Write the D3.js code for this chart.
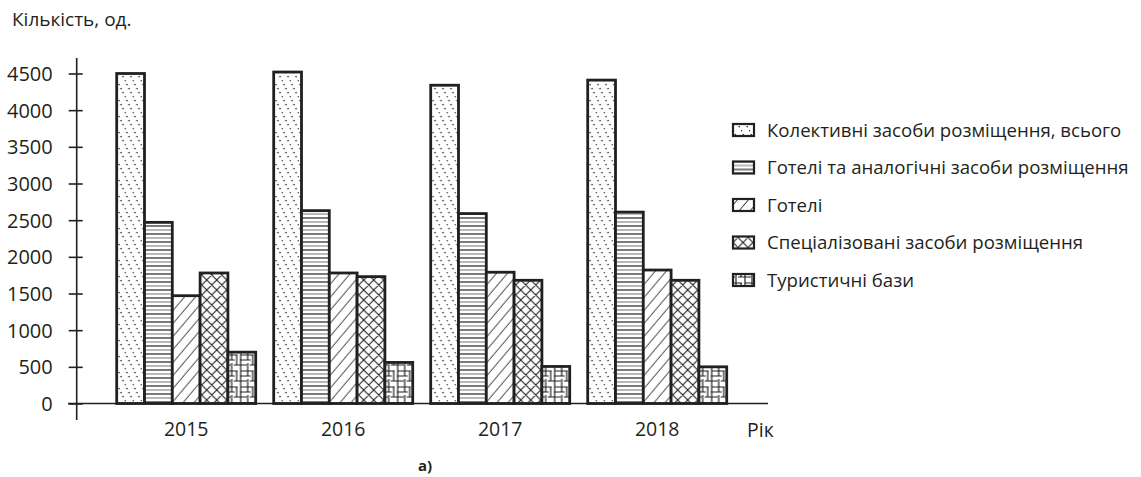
<!DOCTYPE html>
<html>
<head>
<meta charset="utf-8">
<script src="https://cdn.jsdelivr.net/npm/d3@7"></script>
<style>
  html, body { margin: 0; padding: 0; background: #fff; }
  svg { display: block; }
  text { font-family: "Open Sans", "Noto Sans", sans-serif; fill: #231f20; }
</style>
</head>
<body>
<svg id="chart" width="1141" height="477"></svg>
<script>
// ---- data ----
const years = ["2015", "2016", "2017", "2018"];
const seriesNames = [
  "Колективні засоби розміщення, всього",
  "Готелі та аналогічні засоби розміщення",
  "Готелі",
  "Спеціалізовані засоби розміщення",
  "Туристичні бази"
];
const collective   = [4500, 4520, 4340, 4410];
const hotelsSimilar = [2470, 2630, 2590, 2610];
const hotels       = [1470, 1780, 1790, 1820];
const specialized  = [1780, 1730, 1680, 1680];
const touristBases = [700, 560, 505, 500];
const yTicks = [0, 500, 1000, 1500, 2000, 2500, 3000, 3500, 4000, 4500];
const yTitle = "Кількість, од.";
const xTitle = "Рік";
const caption = "а)";

const seriesValues = [collective, hotelsSimilar, hotels, specialized, touristBases];
const patternIds = ["p-dots", "p-hlines", "p-diag", "p-cross", "p-maze"];
const ink = "#231f20";

const svg = d3.select("#chart");
const defs = svg.append("defs");

// pattern 1: dotted backslash lines
{
  const p = defs.append("pattern").attr("id", "p-dots").attr("patternUnits", "userSpaceOnUse")
    .attr("width", 8).attr("height", 16);
  p.append("rect").attr("width", 8).attr("height", 16).attr("fill", "#fff");
  p.append("line").attr("x1", 0).attr("y1", 0).attr("x2", 8).attr("y2", 16)
    .attr("stroke", ink).attr("stroke-width", 1.4).attr("stroke-dasharray", "1.4 3.07");
}
// pattern 2: horizontal lines (alternating dark/grey)
{
  const p = defs.append("pattern").attr("id", "p-hlines").attr("patternUnits", "userSpaceOnUse")
    .attr("width", 8).attr("height", 8);
  p.append("rect").attr("width", 8).attr("height", 8).attr("fill", "#fff");
  p.append("line").attr("x1", 0).attr("y1", 2).attr("x2", 8).attr("y2", 2).attr("stroke", ink).attr("stroke-width", 1.2);
  p.append("line").attr("x1", 0).attr("y1", 6).attr("x2", 8).attr("y2", 6).attr("stroke", "#8a8a8a").attr("stroke-width", 1.2);
}
// pattern 3: forward diagonal lines
{
  const p = defs.append("pattern").attr("id", "p-diag").attr("patternUnits", "userSpaceOnUse")
    .attr("width", 11).attr("height", 13);
  p.append("rect").attr("width", 11).attr("height", 13).attr("fill", "#fff");
  p.append("line").attr("x1", 0).attr("y1", 13).attr("x2", 11).attr("y2", 0).attr("stroke", ink).attr("stroke-width", 1);
  p.append("line").attr("x1", -1).attr("y1", 1.18).attr("x2", 1).attr("y2", -1.18).attr("stroke", ink).attr("stroke-width", 1);
  p.append("line").attr("x1", 10).attr("y1", 14.18).attr("x2", 12).attr("y2", 11.82).attr("stroke", ink).attr("stroke-width", 1);
}
// pattern 4: diagonal cross-hatch
{
  const p = defs.append("pattern").attr("id", "p-cross").attr("patternUnits", "userSpaceOnUse")
    .attr("width", 10).attr("height", 10);
  p.append("rect").attr("width", 10).attr("height", 10).attr("fill", "#fff");
  p.append("path").attr("d", "M0,0L10,10M10,0L0,10M-1,1L1,-1M9,11L11,9M-1,9L1,11M9,-1L11,1")
    .attr("stroke", ink).attr("stroke-width", 1.1).attr("fill", "none");
}
// pattern 5: maze-like grid
{
  const p = defs.append("pattern").attr("id", "p-maze").attr("patternUnits", "userSpaceOnUse")
    .attr("width", 16).attr("height", 16);
  p.append("rect").attr("width", 16).attr("height", 16).attr("fill", "#fff");
  p.append("path").attr("d",
    "M0,3H9M12,3H16M3,0V8M3,11V16M8,3V13M0,8H6M11,8H16M12,0V16M5,13H16M0,13H2")
    .attr("stroke", ink).attr("stroke-width", 1.2).attr("fill", "none");
}

// ---- scales ----
const y = d3.scaleLinear().domain([0, 4500]).range([403.5, 73.5]);
const x0 = d3.scaleBand().domain(years).range([107.7, 735.7]).paddingInner(0.1146).paddingOuter(0.0573);
const x1 = d3.scaleBand().domain(d3.range(seriesNames.length)).range([0, x0.bandwidth()]).padding(0);

// ---- bars ----
const groups = svg.append("g").selectAll("g").data(years).join("g")
  .attr("transform", d => `translate(${x0(d)},0)`);
groups.selectAll("rect")
  .data((yr, i) => seriesValues.map((vals, s) => ({ s, v: vals[i] })))
  .join("rect")
  .attr("x", d => x1(d.s))
  .attr("y", d => y(d.v))
  .attr("width", x1.bandwidth())
  .attr("height", d => y(0) - y(d.v))
  .attr("fill", d => `url(#${patternIds[d.s]})`)
  .attr("stroke", ink)
  .attr("stroke-width", 2.8);

// ---- y axis ----
const axisX = 76.7;
const yAxis = svg.append("g").attr("transform", `translate(${axisX},0)`)
  .call(d3.axisLeft(y).tickValues(yTicks).tickFormat(d3.format("d")).tickSize(7));
yAxis.select(".domain").remove();
yAxis.selectAll(".tick line").attr("x1", -8).attr("x2", 6).attr("stroke", ink).attr("stroke-width", 1.6);
yAxis.selectAll(".tick text").attr("x", -24).attr("dy", "0.35em")
  .style("font-size", "20px").style("font-family", "'Open Sans', sans-serif").attr("fill", ink);
svg.append("line").attr("x1", axisX).attr("x2", axisX).attr("y1", 58).attr("y2", 420)
  .attr("stroke", ink).attr("stroke-width", 1.6);

// ---- x axis ----
svg.append("line").attr("x1", 68).attr("x2", 768).attr("y1", y(0)).attr("y2", y(0))
  .attr("stroke", ink).attr("stroke-width", 1.6);
const xAxis = svg.append("g").attr("transform", `translate(0,${y(0)})`)
  .call(d3.axisBottom(x0).tickSize(0).tickPadding(20));
xAxis.select(".domain").remove();
xAxis.selectAll(".tick text").attr("dy", "0.71em").style("font-size", "19.5px")
  .style("font-family", "'Open Sans', sans-serif").attr("fill", ink).attr("y", 19);

svg.append("text").attr("x", 747).attr("y", 437).style("font-size", "19.5px").text(xTitle);
svg.append("text").attr("x", 12).attr("y", 26).style("font-size", "19px").text(yTitle);
svg.append("text").attr("x", 418).attr("y", 471).style("font-size", "15px").style("font-weight", "bold").text(caption);

// ---- legend ----
const legend = svg.append("g").attr("transform", "translate(733,130)");
const li = legend.selectAll("g").data(seriesNames).join("g")
  .attr("transform", (d, i) => `translate(0,${i * 37.5})`);
li.append("rect").attr("x", 0).attr("y", -6).attr("width", 21).attr("height", 12)
  .attr("fill", (d, i) => `url(#${patternIds[i]})`).attr("stroke", ink).attr("stroke-width", 2.2);
li.append("text").attr("x", 34).attr("y", 0).attr("dy", "0.35em").style("font-size", "18.6px").text(d => d);
</script>
</body>
</html>
